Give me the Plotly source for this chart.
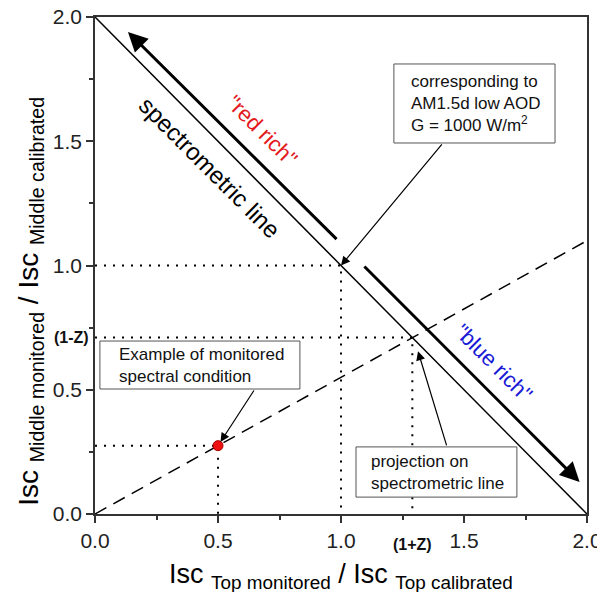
import plotly.graph_objects as go

# ---- data ----
spectro_x = [0.0, 2.0]
spectro_y = [2.0, 0.0]
ratio_line_x = [0.0, 2.0]
ratio_line_y = [0.0, 1.1]
ref_point = [1.0, 1.0]
monitored_point = [0.5, 0.275]
projection_point = [1.29, 0.71]
x_ticks = [0.0, 0.5, 1.0, 1.5, 2.0]
y_ticks = [0.0, 0.5, 1.0, 1.5, 2.0]
red_arrow = [[0.988, 1.10], [0.134, 1.94]]    # tail, head
blue_arrow = [[1.089, 1.002], [1.97, 0.129]]  # tail, head

FONT = "Liberation Sans, Arial, sans-serif"
fig = go.Figure()

# spectrometric line
fig.add_trace(go.Scatter(x=spectro_x, y=spectro_y, mode="lines",
                         line=dict(color="black", width=1.5), hoverinfo="skip"))
# dashed ratio line
fig.add_trace(go.Scatter(x=ratio_line_x, y=ratio_line_y, mode="lines",
                         line=dict(color="black", width=1.5, dash="13px,8px"), hoverinfo="skip"))

# dotted guides
def dotted(px, py):
    fig.add_trace(go.Scatter(x=[0, px, px], y=[py, py, 0], mode="lines",
                             line=dict(color="black", width=2, dash="2px,7px"), hoverinfo="skip"))

dotted(*ref_point)
dotted(*projection_point)
dotted(*monitored_point)

# monitored point
fig.add_trace(go.Scatter(x=[monitored_point[0]], y=[monitored_point[1]], mode="markers",
                         marker=dict(color="#ee1111", size=10, line=dict(color="#aa0000", width=1)),
                         hoverinfo="skip"))

ann = []
shapes = []
# thick arrows
for tail, head in (red_arrow, blue_arrow):
    ann.append(dict(x=head[0], y=head[1], ax=tail[0], ay=tail[1], xref="x", yref="y",
                    axref="x", ayref="y", text="", showarrow=True, arrowhead=2,
                    arrowsize=1.3, arrowwidth=3, arrowcolor="black"))

# text boxes: frame (shape) + left-aligned text
def text_box(x0, x1, y0, y1, tx, text):
    shapes.append(dict(type="rect", xref="x", yref="y", x0=x0, x1=x1, y0=y0, y1=y1,
                       line=dict(color="#555", width=1), fillcolor="white", layer="above"))
    ann.append(dict(x=tx, y=(y0 + y1) / 2, xref="x", yref="y", text=text, showarrow=False,
                    xanchor="left", yanchor="middle", align="left",
                    font=dict(family=FONT, size=17, color="#111")))

text_box(1.215, 1.870, 1.493, 1.811, 1.275,
         "corresponding to<br>AM1.5d low AOD<br>G = 1000 W/m<sup>2</sup>")
text_box(0.020, 0.833, 0.503, 0.696, 0.090, "Example of monitored<br>spectral condition")
text_box(1.061, 1.715, 0.068, 0.270, 1.115, "projection on<br>spectrometric line")

# thin pointer arrows
def pointer(tail, head):
    ann.append(dict(x=head[0], y=head[1], ax=tail[0], ay=tail[1], xref="x", yref="y",
                    axref="x", ayref="y", text="", showarrow=True, arrowhead=2,
                    arrowsize=1.5, arrowwidth=1.2, arrowcolor="black", standoff=0))

pointer([1.415, 1.493], [1.0, 1.0])
pointer([0.650, 0.503], [0.51, 0.29])
pointer([1.431, 0.270], [1.313, 0.655])

# rotated texts
ann.append(dict(x=0.467, y=1.396, xref="x", yref="y", text="spectrometric line", showarrow=False,
                textangle=45, font=dict(family=FONT, size=24, color="black")))
ann.append(dict(x=0.679, y=1.545, xref="x", yref="y", text="\"red rich\"", showarrow=False,
                textangle=45, font=dict(family=FONT, size=22, color="#e31a1c")))
ann.append(dict(x=1.618, y=0.608, xref="x", yref="y", text="\"blue rich\"", showarrow=False,
                textangle=45, font=dict(family=FONT, size=22, color="#1a1ad6")))

# special tick labels (paper coords so they are not hidden outside the axis range)
ann.append(dict(x=-0.008, y=projection_point[1] / 2.0, xref="paper", yref="paper", text="<b>(1-Z)</b>",
                showarrow=False, xanchor="right", font=dict(family=FONT, size=16, color="#111")))
ann.append(dict(x=projection_point[0] / 2.0, y=-0.062, xref="paper", yref="paper", text="<b>(1+Z)</b>",
                showarrow=False, yanchor="middle", font=dict(family=FONT, size=16, color="#111")))

# axis titles
ann.append(dict(x=0.5, y=-0.125, xref="paper", yref="paper", showarrow=False, yanchor="middle",
                text="Isc <sub>Top monitored</sub> / Isc <sub>Top calibrated</sub>",
                font=dict(family=FONT, size=27, color="black")))
ann.append(dict(x=-0.13, y=0.427, xref="paper", yref="paper", showarrow=False, xanchor="center",
                yanchor="middle", textangle=-90,
                text="Isc <sub>Middle monitored</sub> / Isc <sub>Middle calibrated</sub>",
                font=dict(family=FONT, size=28, color="black")))

axis_common = dict(range=[0, 2], showgrid=False, zeroline=False, showline=True, linecolor="#333",
                   linewidth=1.5, mirror=True, ticks="outside", ticklen=7, tickwidth=1.5,
                   tickcolor="#333", tickformat=".1f", automargin=False, ticklabeloverflow="allow",
                   tickfont=dict(family=FONT, size=21, color="#222"),
                   minor=dict(ticks="outside", ticklen=4, tickwidth=1.5, tickcolor="#333", dtick=0.25))

# page body has an 8px margin, so the figure is offset by (8, 8) in the window
fig.update_layout(
    width=597, height=584, showlegend=False, plot_bgcolor="white", paper_bgcolor="white",
    margin=dict(l=87, r=18, t=9, b=78, autoexpand=False),
    xaxis=dict(tickvals=x_ticks, **axis_common),
    yaxis=dict(tickvals=y_ticks, **axis_common),
    annotations=ann,
    shapes=shapes,
)

fig.write_html("out.html")
